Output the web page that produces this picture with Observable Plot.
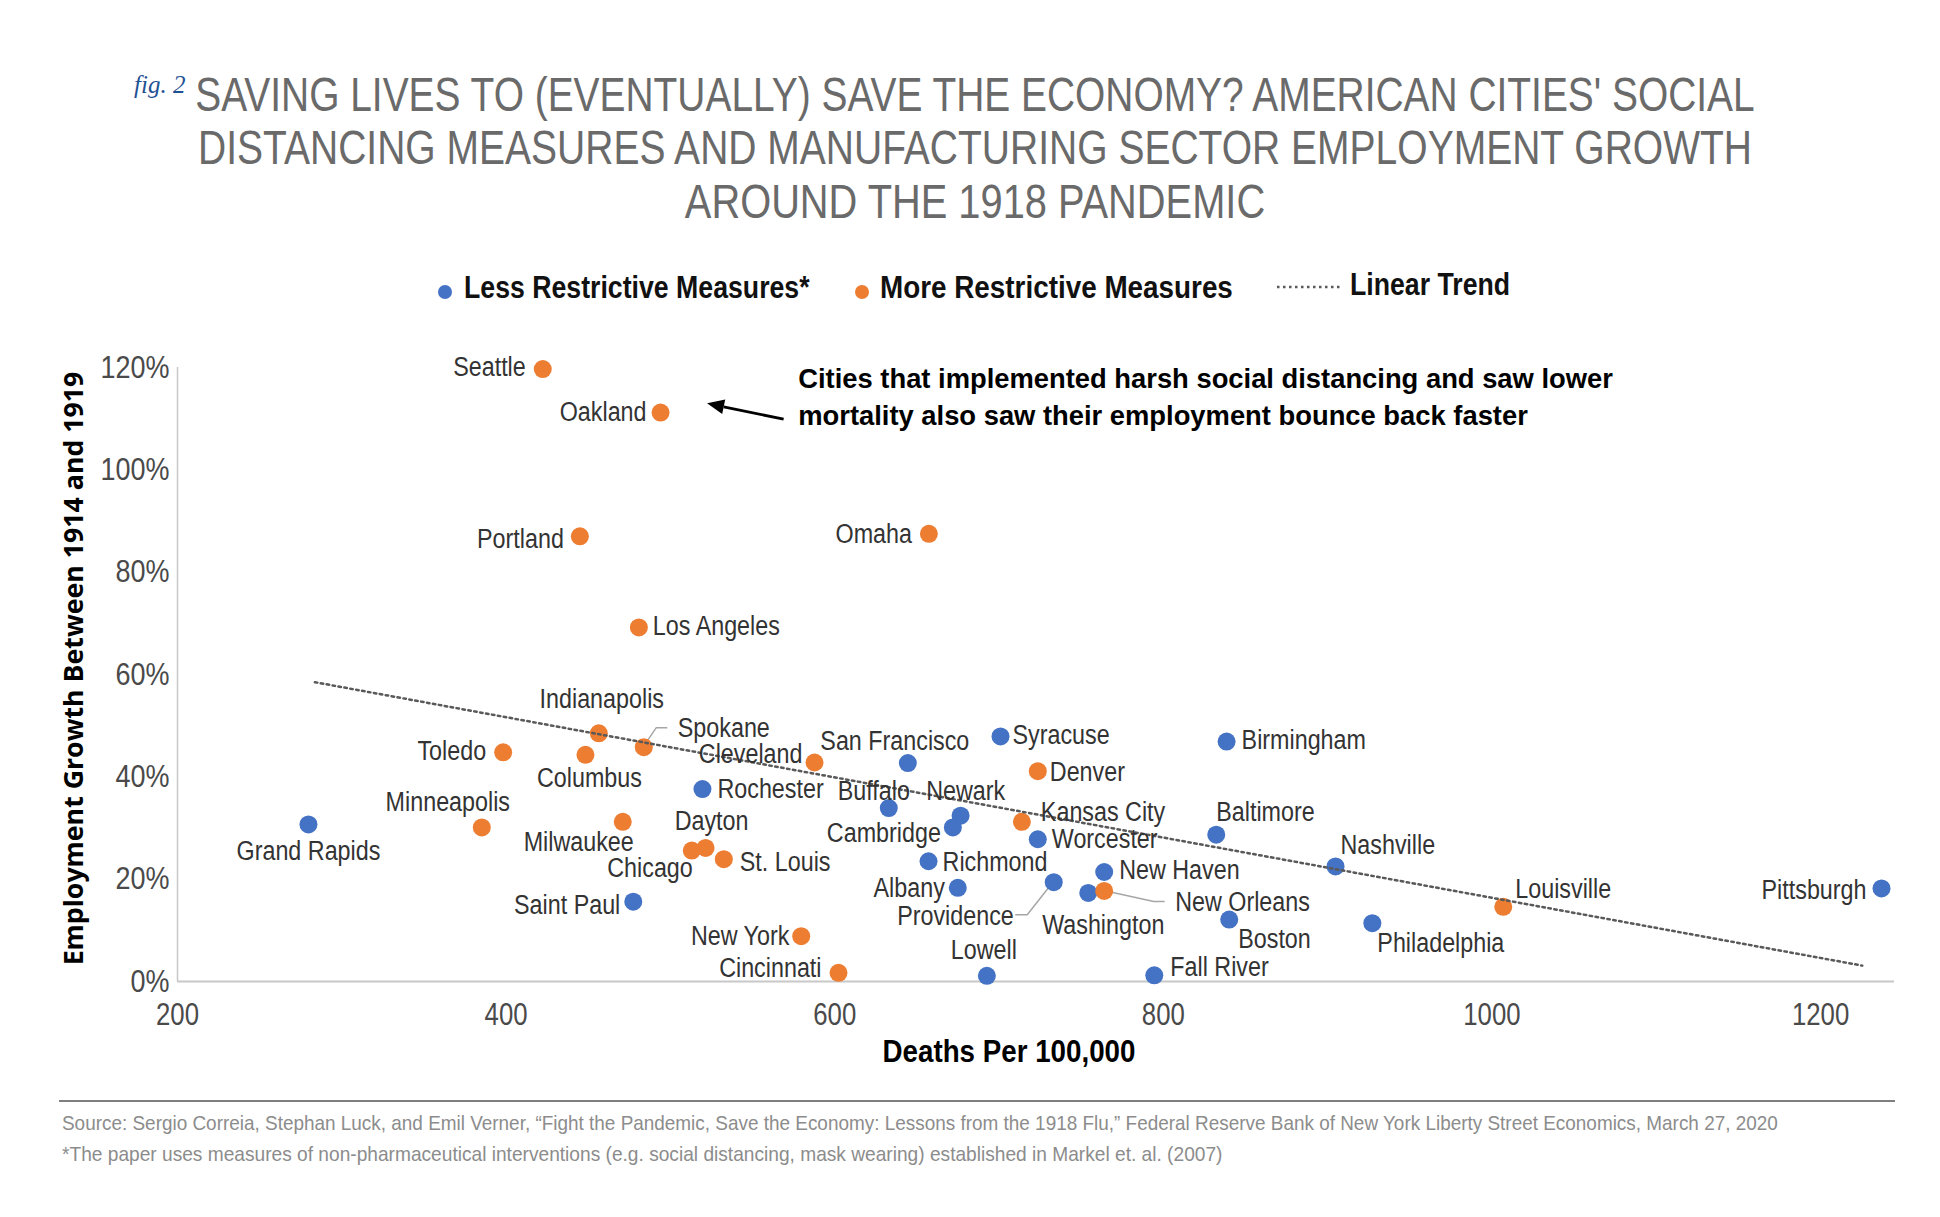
<!DOCTYPE html>
<html>
<head>
<meta charset="utf-8">
<script src="https://cdn.jsdelivr.net/npm/d3@7"></script>
<script src="https://cdn.jsdelivr.net/npm/@observablehq/plot@0.6"></script>
<style>
  body { margin: 0; background: #fff; }
  #page { position: relative; width: 1940px; height: 1217px; overflow: hidden; background: #fff;
          font-family: "Liberation Sans Narrow", "Arial Narrow", "Liberation Sans", sans-serif; }
  .abs { position: absolute; white-space: nowrap; }
  .fig { font-family: "Liberation Serif", "DejaVu Serif", serif; font-style: italic; color: #1f5293; font-size: 25px; line-height: 30px; }
  .title { color: #6a6a6a; font-size: 49px; line-height: 54px; }
  .leg { color: #111; font-weight: bold; font-size: 31px; line-height: 36px; transform-origin: 0 50%; }
  .legdot { position: absolute; width: 14px; height: 14px; border-radius: 50%; }
  .foot { color: #8c8c8c; font-size: 21px; line-height: 26px; transform-origin: 0 50%; }
  #chart { position: absolute; left: 0; top: 340px; }
</style>
</head>
<body>
<div id="page"></div>
<script>
// ---------------- data ----------------
const cities = [
  "Grand Rapids","Rochester","San Francisco","Syracuse","Birmingham","Buffalo","Cambridge","Newark",
  "Worcester","Baltimore","Richmond","New Haven","Nashville","Providence","Washington","Albany",
  "Pittsburgh","Saint Paul","Boston","Philadelphia","Lowell","Fall River",
  "Seattle","Oakland","Portland","Omaha","Los Angeles","Indianapolis","Spokane","Toledo","Columbus",
  "Cleveland","Denver","Minneapolis","Milwaukee","Kansas City","Dayton","Chicago","St. Louis",
  "New Orleans","Louisville","New York","Cincinnati"
];
const deaths = [
  279.7, 519.5, 644.5, 700.9, 838.5, 632.9, 671.9, 676.6,
  723.6, 832.2, 657.1, 764.0, 904.8, 733.3, 754.3, 674.9,
  1237.1, 477.4, 840.1, 927.2, 692.6, 794.5,
  422.3, 494.0, 444.9, 657.3, 480.8, 456.4, 483.8, 398.2, 448.3,
  587.7, 723.6, 385.2, 471.0, 713.9, 521.4, 513.0, 532.5,
  764.0, 1006.9, 579.6, 602.3
];
const growth = [
  30.7, 37.6, 42.7, 47.9, 46.9, 33.9, 30.1, 32.4,
  27.8, 28.7, 23.5, 21.4, 22.5, 19.4, 17.3, 18.3,
  18.2, 15.6, 12.1, 11.4, 1.1, 1.2,
  119.7, 111.2, 87.0, 87.5, 69.2, 48.5, 45.8, 44.8, 44.3,
  42.8, 41.1, 30.1, 31.2, 31.2, 26.1, 25.6, 23.9,
  17.7, 14.6, 8.85, 1.7
];
const measures = [
  "Less","Less","Less","Less","Less","Less","Less","Less",
  "Less","Less","Less","Less","Less","Less","Less","Less",
  "Less","Less","Less","Less","Less","Less",
  "More","More","More","More","More","More","More","More","More",
  "More","More","More","More","More","More","More","More",
  "More","More","More","More"
];
const measureKeys = ["Less", "More"];
const measureNames = ["Less Restrictive Measures*", "More Restrictive Measures"];
const trendName = "Linear Trend";
const trendDeaths = [283.6, 1225.4];
const trendGrowth = [58.5, 3.1];
const xTicks = [200, 400, 600, 800, 1000, 1200];
const yTicks = [0, 20, 40, 60, 80, 100, 120];
const xTitle = "Deaths Per 100,000";
const yTitle = "Employment Growth Between 1914 and 1919";
const figTag = "fig. 2";
const titleLines = [
  "SAVING LIVES TO (EVENTUALLY) SAVE THE ECONOMY? AMERICAN CITIES' SOCIAL",
  "DISTANCING MEASURES AND MANUFACTURING SECTOR EMPLOYMENT GROWTH",
  "AROUND THE 1918 PANDEMIC"
];
const annotationText = "Cities that implemented harsh social distancing and saw lower\nmortality also saw their employment bounce back faster";
const annotationDeaths = [577.8];
const annotationGrowth = [114.6];
const arrowDeaths = [569.2, 522.6];
const arrowGrowth = [109.8, 112.9];
const footLines = [
  "Source: Sergio Correia, Stephan Luck, and Emil Verner, \u201cFight the Pandemic, Save the Economy: Lessons from the 1918 Flu,\u201d Federal Reserve Bank of New York Liberty Street Economics, March 27, 2020",
  "*The paper uses measures of non-pharmaceutical interventions (e.g. social distancing, mask wearing) established in Markel et. al. (2007)"
];

// ---------------- layout / style ----------------
const colors = ["#4472C4", "#ED7D31"];
const NARROW = '"Liberation Sans Narrow", "Arial Narrow", "Liberation Sans", sans-serif';
// label placement: [textAnchor, dx, dy] in pixels relative to the dot
const labelLayout = {
  "Seattle": ["end", -17, -2], "Oakland": ["end", -14, 0], "Portland": ["end", -16, 3],
  "Omaha": ["end", -17, 0], "Los Angeles": ["start", 14, -1], "Indianapolis": ["middle", 3, -34],
  "Spokane": ["start", 34, -19], "Toledo": ["end", -17, -1], "Columbus": ["middle", 4, 23],
  "Cleveland": ["end", -12, -8], "Denver": ["start", 12, 1], "Minneapolis": ["middle", -34, -25],
  "Milwaukee": ["end", 11, 20], "Kansas City": ["start", 19, -10], "Dayton": ["middle", 6, -27],
  "Chicago": ["end", 1, 18], "St. Louis": ["start", 16, 3], "New Orleans": ["start", 71, 11],
  "Louisville": ["start", 12, -18], "New York": ["end", -12, 0], "Cincinnati": ["end", -17, -5],
  "Grand Rapids": ["middle", 0, 27], "Rochester": ["start", 15, 0], "San Francisco": ["middle", -13, -22],
  "Syracuse": ["start", 12, -1], "Birmingham": ["start", 15, -1], "Buffalo": ["middle", -15, -17],
  "Cambridge": ["end", -12, 6], "Newark": ["middle", 5, -25], "Worcester": ["start", 14, 0],
  "Baltimore": ["start", 0, -23], "Richmond": ["start", 14, 1], "New Haven": ["start", 15, -2],
  "Nashville": ["start", 5, -21], "Providence": ["end", -40, 34], "Washington": ["middle", 15, 32],
  "Albany": ["end", -13, 0], "Pittsburgh": ["end", -15, 2], "Saint Paul": ["end", -13, 3],
  "Boston": ["start", 9, 19], "Philadelphia": ["start", 5, 20], "Lowell": ["middle", -3, -26],
  "Fall River": ["start", 16, -8]
};
// reference widths (px) of a few labels, used to match the narrow label face
const labelWidthRef = {"Indianapolis": 128, "Minneapolis": 128, "Columbus": 105, "Cincinnati": 105,
  "Washington": 127, "San Francisco": 143, "Philadelphia": 130, "Providence": 114, "Los Angeles": 125,
  "Rochester": 102, "Cleveland": 102, "Worcester": 106};
// leader lines: pixel offsets from the dot
const leaderLayout = {
  "Spokane": [[0, 0], [13, -19], [24, -19]],
  "Providence": [[-38, 33], [-26, 33], [0, 0]],
  "New Orleans": [[0, 0], [50, 11], [61, 11]]
};

// ---------------- build ----------------
const rows = cities.map((c, i) => ({city: c, deaths: deaths[i], growth: growth[i], measure: measures[i]}));
const page = document.getElementById("page");

function addDiv(cls, text, left, top) {
  const d = document.createElement("div");
  d.className = "abs " + cls;
  d.textContent = text;
  d.style.left = left + "px";
  d.style.top = top + "px";
  page.appendChild(d);
  return d;
}
function fitLeft(el, target) {
  const w = el.offsetWidth;
  if (w > 0) el.style.transform = `scaleX(${target / w})`;
}
function fitCenter(el, target) {
  const w = el.offsetWidth;
  const f = w > 0 ? target / w : 1;
  el.style.transformOrigin = "50% 50%";
  el.style.transform = `translateX(-50%) scaleX(${f})`;
}

// title
addDiv("fig", figTag, 134, 70);
const titleTops = [67, 120, 174];
const titleWidths = [1559, 1554, 580];
titleLines.forEach((t, i) => fitCenter(addDiv("title", t, 975, titleTops[i]), titleWidths[i]));

// legend
const legDots = [445, 862];
const legText = [464, 880];
const legWidths = [346, 353];
measureNames.forEach((n, i) => {
  const dot = document.createElement("div");
  dot.className = "legdot";
  dot.style.left = (legDots[i] - 7) + "px";
  dot.style.top = (292 - 7) + "px";
  dot.style.background = colors[i];
  page.appendChild(dot);
  fitLeft(addDiv("leg", n, legText[i], 270), legWidths[i]);
});
{
  const ln = document.createElementNS("http://www.w3.org/2000/svg", "svg");
  ln.setAttribute("width", 70); ln.setAttribute("height", 10);
  ln.style.position = "absolute"; ln.style.left = "1276px"; ln.style.top = "282px";
  ln.innerHTML = '<line x1="1" y1="5" x2="66" y2="5" stroke="#595959" stroke-width="2.5" stroke-dasharray="2.5 3.5"/>';
  page.appendChild(ln);
  fitLeft(addDiv("leg", trendName, 1350, 267), 160);
}

// chart
const W = 1940, H = 740;
const mL = 177, mR = 46, mT = 27, mB = 99;

function leadersMark(index, scales) {
  const g = d3.create("svg:g");
  if (!scales || typeof scales.x !== "function") return g.node();
  for (const d of rows) {
    const pts = leaderLayout[d.city];
    if (!pts) continue;
    const cx = scales.x(d.deaths), cy = scales.y(d.growth);
    g.append("path")
      .attr("d", d3.line()(pts.map(([a, b]) => [cx + a, cy + b])))
      .attr("fill", "none").attr("stroke", "#a6a6a6").attr("stroke-width", 1.5);
  }
  return g.node();
}
function arrowMark(index, scales) {
  const g = d3.create("svg:g");
  if (!scales || typeof scales.x !== "function") return g.node();
  const x1 = scales.x(arrowDeaths[0]), y1 = scales.y(arrowGrowth[0]);
  const x2 = scales.x(arrowDeaths[1]), y2 = scales.y(arrowGrowth[1]);
  const ang = Math.atan2(y2 - y1, x2 - x1);
  const L = 17, hw = 7.5;
  const bx = x2 - L * Math.cos(ang), by = y2 - L * Math.sin(ang);
  g.append("line").attr("x1", x1).attr("y1", y1).attr("x2", bx).attr("y2", by)
    .attr("stroke", "#000").attr("stroke-width", 2.8);
  const px = -Math.sin(ang) * hw, py = Math.cos(ang) * hw;
  g.append("path").attr("d", `M${x2},${y2}L${bx + px},${by + py}L${bx - px},${by - py}Z`).attr("fill", "#000");
  return g.node();
}

const labelMarks = rows.map(d => {
  const [anchor, dx, dy] = labelLayout[d.city] || ["start", 12, 0];
  return Plot.text([d], {
    x: "deaths", y: "growth", text: "city", textAnchor: anchor, dx, dy, lineAnchor: "middle",
    fontSize: 28, fill: "#333", fontFamily: NARROW
  });
});

const trendRows = trendDeaths.map((x, i) => ({deaths: x, growth: trendGrowth[i]}));
const annRows = annotationDeaths.map((x, i) => ({deaths: x, growth: annotationGrowth[i], text: annotationText}));

const plot = Plot.plot({
  width: W, height: H,
  marginLeft: mL, marginRight: mR, marginTop: mT, marginBottom: mB,
  style: {fontFamily: NARROW, background: "transparent", overflow: "visible"},
  x: {domain: [200, 1245], ticks: xTicks},
  y: {domain: [0, 120], ticks: yTicks},
  color: {domain: measureKeys, range: colors},
  marks: [
    Plot.ruleX([200], {y1: 0, y2: 120, stroke: "#c8c8c8", strokeWidth: 1.5}),
    Plot.ruleY([0], {x1: 200, x2: 1245, stroke: "#c8c8c8", strokeWidth: 2}),
    Plot.axisX({ticks: xTicks, tickSize: 0, tickPadding: 21, fontSize: 32, fill: "#4a4a4a", label: null,
                tickFormat: d => String(d)}),
    Plot.axisY({ticks: yTicks, tickSize: 0, tickPadding: 8, fontSize: 32, fill: "#4a4a4a", label: null,
                tickFormat: d => d + "%"}),
    leadersMark,
    Plot.dot(rows, {x: "deaths", y: "growth", fill: "measure", r: 9, stroke: "none"}),
    Plot.line(trendRows, {x: "deaths", y: "growth", stroke: "#595959", strokeWidth: 2.5, strokeDasharray: "2.5 3.5"}),
    ...labelMarks,
    Plot.text(annRows, {x: "deaths", y: "growth", text: "text", textAnchor: "start", lineAnchor: "middle",
                        lineHeight: 1.32, fontSize: 28, fontWeight: "bold", fill: "#000", fontFamily: NARROW}),
    arrowMark,
    Plot.text([xTitle], {frameAnchor: "bottom", text: d => d, textAnchor: "middle", lineAnchor: "middle",
                         dy: 70, dx: -27, fontSize: 32, fontWeight: "bold", fill: "#000", fontFamily: NARROW}),
    Plot.text([yTitle], {frameAnchor: "left", text: d => d, textAnchor: "middle", lineAnchor: "middle",
                         dx: -103, dy: -6, rotate: -90, fontSize: 27, fontWeight: "bold", fill: "#000",
                         fontFamily: '"Open Sans", "DejaVu Sans", sans-serif'})
  ]
});
plot.id = "chart";
page.appendChild(plot);

// horizontal fitting of SVG texts around their anchor point
function scaleText(el, f) {
  if (!isFinite(f) || f <= 0) return;
  const bb = el.getBBox();
  const anchor = getComputedStyle(el).textAnchor;
  const ax = anchor === "end" ? bb.x + bb.width : anchor === "middle" ? bb.x + bb.width / 2 : bb.x;
  const t = el.getAttribute("transform") || "";
  el.setAttribute("transform", `${t} translate(${ax},0) scale(${f},1) translate(${-ax},0)`);
}
function widthOf(el) { return el.getBBox().width; }
{
  const all = Array.from(plot.querySelectorAll("text"));
  const groupLabel = el => (el.closest("g[aria-label]") || {getAttribute: () => ""}).getAttribute("aria-label") || "";
  const citySet = new Set(cities);
  const labels = all.filter(el => citySet.has(el.textContent) && !groupLabel(el).includes("axis"));
  const xt = all.filter(el => groupLabel(el).startsWith("x-axis"));
  const yt = all.filter(el => groupLabel(el).startsWith("y-axis"));
  // labels
  let sumT = 0, sumM = 0;
  for (const el of labels) {
    const ref = labelWidthRef[el.textContent];
    if (ref) { sumT += ref; sumM += widthOf(el); }
  }
  const fl = sumM > 0 ? sumT / sumM : 1;
  labels.forEach(el => scaleText(el, fl));
  // ticks
  const y120 = yt.find(e => e.textContent === "120%");
  const x200 = xt.find(e => e.textContent === "200");
  if (y120) { const f = 69 / widthOf(y120); yt.forEach(el => scaleText(el, f)); }
  if (x200) { const f = 43 / widthOf(x200); xt.forEach(el => scaleText(el, f)); }
  // titles and annotation
  all.filter(el => el.textContent === xTitle).forEach(el => scaleText(el, 253 / widthOf(el)));
  all.filter(el => el.textContent === yTitle).forEach(el => scaleText(el, 594 / widthOf(el)));
  all.filter(el => el.textContent.startsWith("Cities that")).forEach(el => scaleText(el, 815 / widthOf(el)));
}

// footer
{
  const r = document.createElement("div");
  r.style.position = "absolute"; r.style.left = "59px"; r.style.top = "1100px";
  r.style.width = "1836px"; r.style.height = "1.5px"; r.style.background = "#7f7f7f";
  page.appendChild(r);
  fitLeft(addDiv("foot", footLines[0], 62, 1110), 1716);
  fitLeft(addDiv("foot", footLines[1], 62, 1141), 1160);
}
</script>
</body>
</html>
